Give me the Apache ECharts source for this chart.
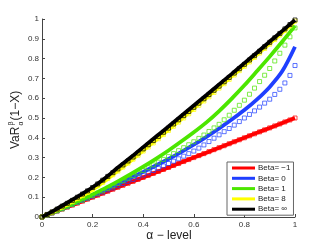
<!DOCTYPE html>
<html>
<head>
<meta charset="utf-8">
<script src="https://cdn.jsdelivr.net/npm/echarts@6/dist/echarts.min.js"></script>
<style>
html,body{margin:0;padding:0;background:#fff;}
#c{width:327px;height:245px;}
</style>
</head>
<body>
<div id="c"></div>
<script>
// ---- data ----
var xLine = [0,0.05,0.1,0.15,0.2,0.25,0.3,0.35,0.4,0.45,0.5,0.55,0.6,0.65,0.7,0.75,0.8,0.85,0.9,0.95,1];
var redLine    = [0,0.025,0.05,0.075,0.1,0.125,0.15,0.175,0.2,0.225,0.25,0.275,0.3,0.325,0.35,0.375,0.4,0.425,0.45,0.475,0.5];
var blueLine   = [0,0.026,0.053,0.081,0.109,0.138,0.167,0.197,0.228,0.26,0.293,0.328,0.365,0.405,0.447,0.492,0.54,0.594,0.657,0.737,0.86];
var greenLine  = [0,0.027,0.055,0.084,0.114,0.146,0.18,0.216,0.254,0.294,0.336,0.381,0.428,0.478,0.535,0.598,0.665,0.737,0.81,0.886,0.965];
var yellowLine = [0,0.03,0.064,0.1,0.138,0.183,0.233,0.283,0.336,0.388,0.441,0.494,0.548,0.602,0.656,0.71,0.765,0.82,0.876,0.932,0.99];
var blackLine  = [0,0.035,0.072,0.11,0.15,0.197,0.25,0.3,0.353,0.405,0.457,0.51,0.563,0.616,0.67,0.723,0.777,0.831,0.886,0.94,0.995];

var xMark = [0,0.02,0.04,0.06,0.08,0.1,0.12,0.14,0.16,0.18,0.2,0.22,0.24,0.26,0.28,0.3,0.32,0.34,0.36,0.38,0.4,0.42,0.44,0.46,0.48,0.5,0.52,0.54,0.56,0.58,0.6,0.62,0.64,0.66,0.68,0.7,0.72,0.74,0.76,0.78,0.8,0.82,0.84,0.86,0.88,0.9,0.92,0.94,0.96,0.98,1];
var redMark    = [0,0.01,0.02,0.03,0.04,0.05,0.06,0.07,0.08,0.09,0.1,0.11,0.12,0.13,0.14,0.15,0.16,0.17,0.18,0.19,0.2,0.21,0.22,0.23,0.24,0.25,0.26,0.27,0.28,0.29,0.3,0.31,0.32,0.33,0.34,0.35,0.36,0.37,0.38,0.39,0.4,0.41,0.42,0.43,0.44,0.45,0.46,0.47,0.48,0.49,0.5];
var blueMark   = [0,0.010,0.021,0.031,0.042,0.052,0.063,0.073,0.084,0.094,0.105,0.116,0.126,0.137,0.147,0.158,0.169,0.180,0.190,0.201,0.212,0.223,0.235,0.246,0.258,0.270,0.282,0.294,0.307,0.320,0.333,0.348,0.364,0.381,0.398,0.415,0.431,0.447,0.464,0.482,0.500,0.518,0.536,0.555,0.575,0.595,0.619,0.645,0.677,0.715,0.765];
var greenMark  = [0,0.010,0.021,0.031,0.041,0.052,0.063,0.074,0.085,0.096,0.108,0.120,0.132,0.145,0.157,0.170,0.183,0.196,0.209,0.222,0.235,0.249,0.263,0.277,0.291,0.305,0.320,0.335,0.350,0.365,0.380,0.397,0.414,0.432,0.450,0.468,0.491,0.514,0.539,0.564,0.590,0.620,0.651,0.684,0.716,0.750,0.788,0.827,0.868,0.910,0.955];
var yellowMark = [0,0.012,0.024,0.037,0.050,0.064,0.078,0.093,0.108,0.124,0.140,0.157,0.175,0.194,0.213,0.232,0.252,0.272,0.292,0.312,0.333,0.353,0.374,0.395,0.416,0.437,0.458,0.479,0.500,0.521,0.543,0.564,0.586,0.607,0.629,0.651,0.673,0.695,0.717,0.739,0.761,0.783,0.806,0.828,0.851,0.873,0.896,0.919,0.942,0.965,0.990];
var blackMark  = [0,0.013,0.026,0.040,0.055,0.069,0.084,0.100,0.116,0.132,0.149,0.167,0.186,0.205,0.224,0.243,0.263,0.283,0.303,0.323,0.344,0.365,0.386,0.407,0.428,0.449,0.470,0.491,0.512,0.533,0.554,0.575,0.597,0.618,0.640,0.661,0.683,0.705,0.727,0.749,0.771,0.793,0.815,0.837,0.860,0.882,0.905,0.927,0.950,0.972,0.995];

var legendNames = ['Beta= \u22121','Beta= 0','Beta= 1','Beta= 8','Beta= \u221e'];
var colors = ['#ff0000','#1f3fff','#4ce600','#ffff00','#000000'];

function pairs(xs, ys){ return xs.map(function(x,i){ return [x, ys[i]]; }); }

var FONT = "'Liberation Sans', Arial, Helvetica, sans-serif";
var lines = [redLine, blueLine, greenLine, yellowLine, blackLine];
var marks = [redMark, blueMark, greenMark, yellowMark, blackMark];

var series = [];
for (var i = 0; i < 5; i++) {
  series.push({
    name: legendNames[i],
    type: 'line',
    data: pairs(xLine, lines[i]),
    showSymbol: false,
    smooth: 0.3,
    lineStyle: { color: colors[i], width: 3.8 },
    itemStyle: { color: colors[i] },
    z: 2 + i * 2,
    silent: true
  });
  series.push({
    name: 'm' + i,
    type: 'scatter',
    data: pairs(xMark, marks[i]),
    symbol: 'rect',
    symbolSize: 4,
    itemStyle: { color: 'rgba(0,0,0,0)', borderColor: colors[i], borderWidth: 0.9 },
    z: 3 + i * 2,
    silent: true
  });
}

var chart = echarts.init(document.getElementById('c'), null, { renderer: 'canvas' });
chart.setOption({
  animation: false,
  backgroundColor: '#fff',
  grid: { left: 42, right: 32, top: 19, bottom: 28, containLabel: false },
  xAxis: {
    type: 'value', min: 0, max: 1, interval: 0.2,
    axisLine: { lineStyle: { color: '#444', width: 1 } },
    axisTick: { inside: true, length: 3, lineStyle: { color: '#444' } },
    axisLabel: { color: '#333', fontSize: 8, fontFamily: FONT, margin: 4 },
    splitLine: { show: false }
  },
  yAxis: {
    type: 'value', min: 0, max: 1, interval: 0.1,
    axisLine: { show: true, lineStyle: { color: '#444', width: 1 } },
    axisTick: { show: true, inside: true, length: 3, lineStyle: { color: '#444' } },
    axisLabel: { color: '#333', fontSize: 8, fontFamily: FONT, margin: 3 },
    splitLine: { show: false }
  },
  legend: {
    data: legendNames,
    orient: 'vertical',
    left: 227, top: 162,
    padding: [1, 3, 1, 5],
    itemGap: 0.3,
    itemWidth: 23, itemHeight: 3,
    icon: 'rect',
    backgroundColor: '#fff',
    borderColor: '#666', borderWidth: 1,
    textStyle: { fontSize: 8, fontFamily: FONT, color: '#222', lineHeight: 10, padding: [0,0,0,-2] }
  },
  graphic: [
    {
      type: 'group', x: 16, y: 120, rotation: Math.PI / 2,
      children: [
        { type: 'text', x: -29, y: 0, style: { text: 'VaR', font: '12px ' + FONT, fill: '#222', verticalAlign: 'middle', align: 'left' } },
        { type: 'text', x: -5.5, y: -5, style: { text: '\u03b2', font: '7px ' + FONT, fill: '#222', verticalAlign: 'middle', align: 'left' } },
        { type: 'text', x: -5.5, y: 5, style: { text: '\u03b1', font: '7px ' + FONT, fill: '#222', verticalAlign: 'middle', align: 'left' } },
        { type: 'text', x: -0.5, y: 0, style: { text: '(1\u2212X)', font: '12px ' + FONT, fill: '#222', verticalAlign: 'middle', align: 'left' } }
      ]
    },
    {
      type: 'text', x: 169, y: 236,
      style: { text: '\u03b1 \u2212 level', font: '12px ' + FONT, fill: '#222', align: 'center', verticalAlign: 'middle' }
    }
  ],
  series: series
});
</script>
</body>
</html>
